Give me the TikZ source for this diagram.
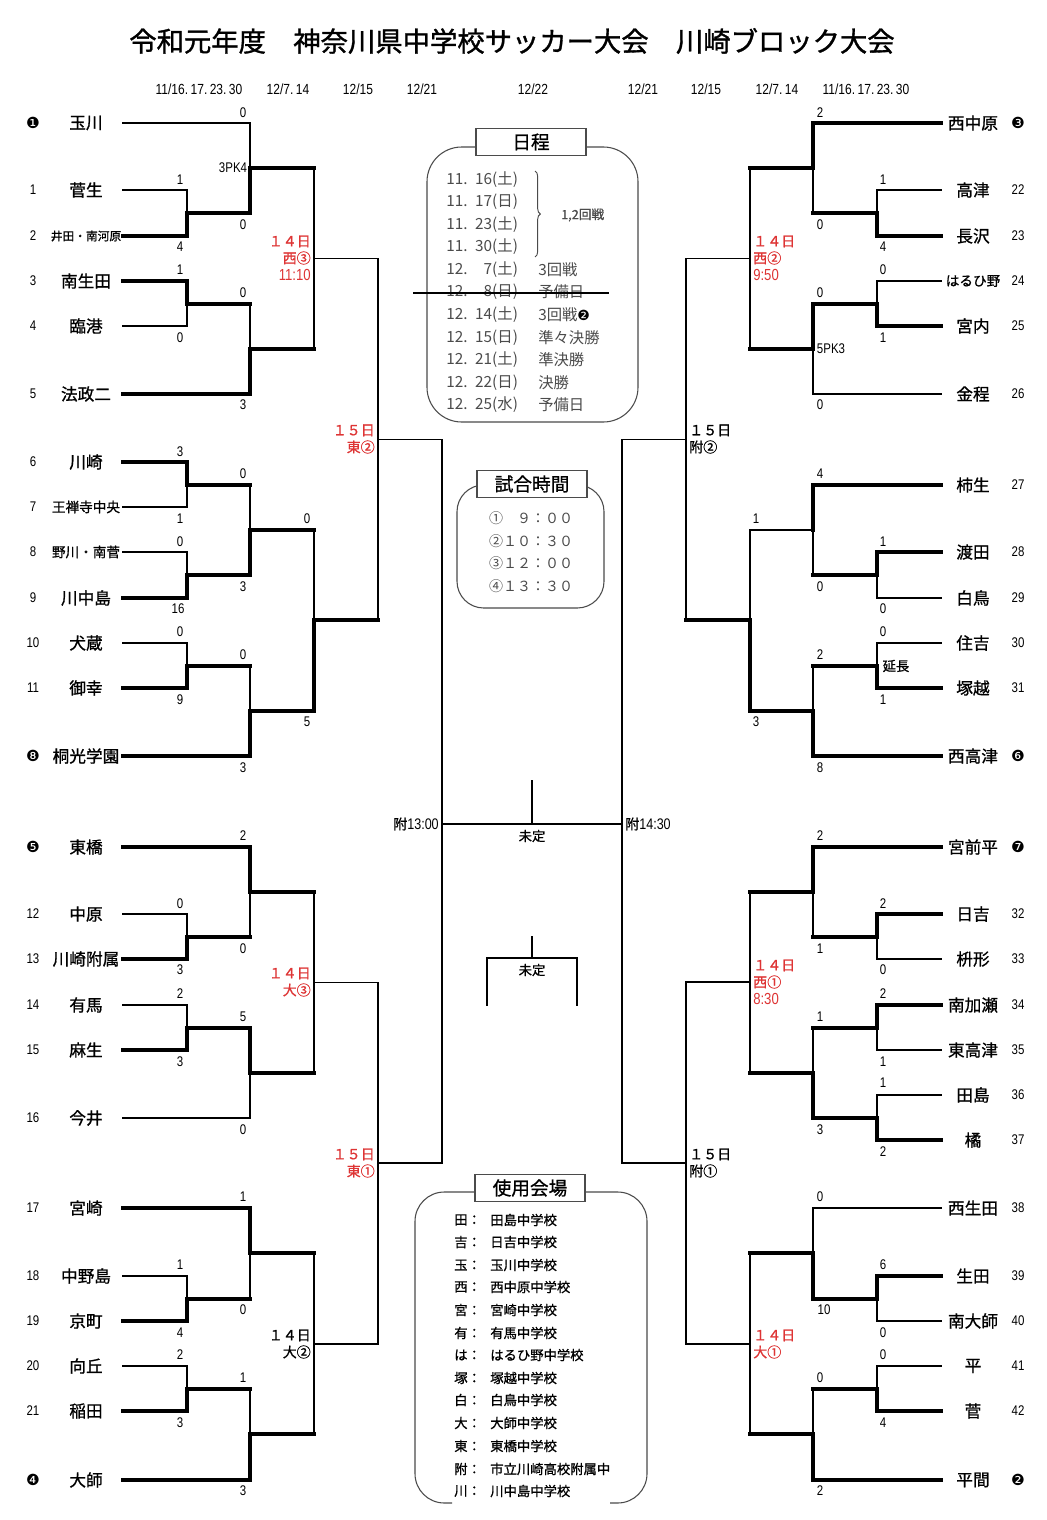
\documentclass[tikz,border=0pt]{standalone}
\usepackage{fontspec}
\setmainfont{Noto Sans CJK JP}
\newfontfamily\jp{Noto Sans CJK JP}
\newfontfamily\jpm[FakeBold=0.9]{Noto Sans CJK JP}
\newfontfamily\jpt[FakeBold=1.2]{Noto Sans CJK JP}
\newfontfamily\nr[FakeStretch=0.82]{Liberation Sans}
\newfontfamily\dv{DejaVu Sans}
\usetikzlibrary{calc,decorations.pathreplacing}
\definecolor{rd}{RGB}{222,52,52}
\definecolor{gy}{RGB}{75,75,75}
\newcommand\fs[1]{\fontsize{#1}{#1}\selectfont}
% one match of the bracket: top entrant, bottom entrant, x of vertical, result name, 4 styles
\newcommand\bm[8]{%
  \coordinate (#4) at ($(#1 -| #3)!0.5!(#2 -| #3)$);
  \draw[#5] (#1) -- (#1 -| #3);
  \draw[#6] (#2) -- (#2 -| #3);
  \draw[#7] (#1 -| #3) -- (#4);
  \draw[#8] (#2 -| #3) -- (#4);
}
\begin{document}
\begin{tikzpicture}[x=0.75pt,y=-0.75pt,
  tn/.style={line width=1.1pt,line cap=rect},
  tk/.style={line width=3pt,line cap=rect},
  sc/.style={inner sep=0pt,font=\nr\fs{10.5pt}},
  tm/.style={inner sep=0pt,font=\jpm\fs{12.5pt}},
  nb/.style={inner sep=0pt,font=\nr\fs{10.5pt}},
  sd/.style={inner sep=0pt,font=\dv\fs{11.5pt}},
  dt/.style={inner sep=0pt,font=\nr\fs{11pt}},
  lbr/.style={inner sep=0pt,align=right,anchor=east,font=\jpm\fontsize{10.5pt}{12.75pt}\selectfont},
  lbl/.style={inner sep=0pt,align=left,anchor=west,font=\jpm\fontsize{10.5pt}{12.75pt}\selectfont},
  frame/.style={draw=gy,line width=0.8pt},
  ttl/.style={draw=gy,line width=0.8pt,fill=white,minimum width=82.5pt,minimum height=20.5pt,inner sep=0pt,font=\jpm\fs{14pt}},
  sch/.style={inner sep=0pt,anchor=west,text=gy,font=\jp\fs{11.5pt}},
  ven/.style={inner sep=0pt,anchor=west,font=\jpm\fs{10pt}}]
\useasboundingbox (0,0) rectangle (1046,1520);
\fill[white] (0,0) rectangle (1046,1520);

% title and dates
\node[inner sep=0pt,font=\jpt\fs{20.5pt}] (title) at (512,41) {令和元年度　神奈川県中学校サッカー大会　川崎ブロック大会};
\node[dt] (d1) at (199,89) {11/16.\,17.\,23.\,30};
\node[dt] (d2) at (288,89) {12/7.\,14};
\node[dt] (d3) at (358,89) {12/15};
\node[dt] (d4) at (422,89) {12/21};
\node[dt] (d5) at (533,89) {12/22};
\node[dt] (d6) at (643,89) {12/21};
\node[dt] (d7) at (706,89) {12/15};
\node[dt] (d8) at (777,89) {12/7.\,14};
\node[dt] (d9) at (866,89) {11/16.\,17.\,23.\,30};

% vertical positions
\coordinate (xa) at (187,0); \coordinate (xb) at (250,0);
\coordinate (xc) at (314,0); \coordinate (xd) at (378,0); \coordinate (xe) at (442,0);
\coordinate (ya) at (877,0); \coordinate (yb) at (813,0);
\coordinate (yc) at (750,0); \coordinate (yd) at (686,0); \coordinate (ye) at (622,0);

% left teams
\foreach \n/\y/\t in {0/123/玉川,1/190/菅生,2/236/{\fs{8.8pt}井田・南河原},3/281/南生田,4/326/臨港,5/394/法政二,
  6/462/川崎,7/507/{\fs{10.2pt}王禅寺中央},8/552/{\fs{10.2pt}野川・南菅},9/598/川中島,10/643/犬蔵,11/688/御幸,12/756/桐光学園,
  13/847/東橋,14/914/中原,15/959/川崎附属,16/1005/有馬,17/1050/麻生,18/1118/今井,
  19/1208/宮崎,20/1276/中野島,21/1321/京町,22/1366/向丘,23/1411/稲田,24/1480/大師}
  {\node[tm] (nL\n) at (86,\y) {\t}; \coordinate (L\n) at (123,\y);}
% right teams
\foreach \n/\y/\t in {0/123/西中原,1/190/高津,2/236/長沢,3/281/{\fs{10.2pt}はるひ野},4/326/宮内,5/394/金程,
  6/485/柿生,7/552/渡田,8/598/白鳥,9/643/住吉,10/688/塚越,11/756/西高津,
  12/847/宮前平,13/914/日吉,14/959/枡形,15/1005/南加瀬,16/1050/東高津,17/1095/田島,18/1140/橘,
  19/1208/西生田,20/1276/生田,21/1321/南大師,22/1366/平,23/1411/菅,24/1480/平間}
  {\node[tm] (nR\n) at (973,\y) {\t}; \coordinate (R\n) at (941,\y);}
% draw numbers
\foreach \n/\y in {1/190,2/236,3/281,4/326,5/394,6/462,7/507,8/552,9/598,10/643,11/688,
  12/914,13/959,14/1005,15/1050,16/1118,17/1208,18/1276,19/1321,20/1366,21/1411}
  {\node[nb] (kL\n) at (33,\y) {\n};}
\foreach \n/\y in {22/190,23/236,24/281,25/326,26/394,27/485,28/552,29/598,30/643,31/688,
  32/914,33/959,34/1005,35/1050,36/1095,37/1140,38/1208,39/1276,40/1321,41/1366,42/1411}
  {\node[nb] (kR\n) at (1018,\y) {\n};}
\node[sd] (sd1) at (33,123) {❶};
\node[sd] (sd8) at (33,756) {❽};
\node[sd] (sd5) at (33,847) {❺};
\node[sd] (sd4) at (33,1480) {❹};
\node[sd] (sd3) at (1018,123) {❸};
\node[sd] (sd6) at (1018,756) {❻};
\node[sd] (sd7) at (1018,847) {❼};
\node[sd] (sd2) at (1018,1480) {❷};

% ---------- left bracket ----------
\bm{L1}{L2}{xa}{m12}{tn}{tk}{tn}{tk}
\bm{L3}{L4}{xa}{m34}{tk}{tn}{tk}{tn}
\bm{L0}{m12}{xb}{r1a}{tn}{tk}{tn}{tk}
\bm{m34}{L5}{xb}{r1b}{tk}{tk}{tn}{tk}
\bm{r1a}{r1b}{xc}{q1}{tk}{tk}{tn}{tn}

\bm{L6}{L7}{xa}{m67}{tk}{tn}{tk}{tn}
\bm{L8}{L9}{xa}{m89}{tn}{tk}{tn}{tk}
\bm{m67}{m89}{xb}{r2a}{tk}{tk}{tn}{tk}
\bm{L10}{L11}{xa}{m1011}{tn}{tk}{tn}{tk}
\bm{m1011}{L12}{xb}{r2b}{tk}{tk}{tn}{tk}
\bm{r2a}{r2b}{xc}{q2}{tk}{tk}{tn}{tk}
\bm{q1}{q2}{xd}{s1}{tn}{tk}{tn}{tn}

\bm{L14}{L15}{xa}{m1415}{tn}{tk}{tn}{tk}
\bm{L13}{m1415}{xb}{r3a}{tk}{tk}{tk}{tn}
\bm{L16}{L17}{xa}{m1617}{tn}{tk}{tn}{tk}
\bm{m1617}{L18}{xb}{r3b}{tk}{tn}{tk}{tn}
\bm{r3a}{r3b}{xc}{q3}{tk}{tk}{tn}{tn}

\bm{L20}{L21}{xa}{m2021}{tn}{tk}{tn}{tk}
\bm{L19}{m2021}{xb}{r4a}{tk}{tk}{tk}{tn}
\bm{L22}{L23}{xa}{m2223}{tn}{tk}{tn}{tk}
\bm{m2223}{L24}{xb}{r4b}{tk}{tk}{tn}{tk}
\bm{r4a}{r4b}{xc}{q4}{tk}{tk}{tn}{tn}
\bm{q3}{q4}{xd}{s2}{tn}{tn}{tn}{tn}

% ---------- right bracket ----------
\bm{R1}{R2}{ya}{n12}{tn}{tk}{tn}{tk}
\bm{R0}{n12}{yb}{p1a}{tk}{tk}{tk}{tn}
\bm{R3}{R4}{ya}{n34}{tn}{tk}{tn}{tk}
\bm{n34}{R5}{yb}{p1b}{tk}{tn}{tk}{tn}
\bm{p1a}{p1b}{yc}{w1}{tk}{tk}{tn}{tn}

\bm{R7}{R8}{ya}{n78}{tk}{tn}{tk}{tn}
\bm{R6}{n78}{yb}{p2a}{tk}{tk}{tk}{tn}
\bm{R9}{R10}{ya}{n910}{tn}{tk}{tn}{tk}
\bm{n910}{R11}{yb}{p2b}{tk}{tk}{tn}{tk}
\bm{p2a}{p2b}{yc}{w2}{tn}{tk}{tn}{tk}
\bm{w1}{w2}{yd}{s3}{tn}{tk}{tn}{tn}

\bm{R13}{R14}{ya}{n1314}{tk}{tn}{tk}{tn}
\bm{R12}{n1314}{yb}{p3a}{tk}{tk}{tk}{tn}
\bm{R15}{R16}{ya}{n1516}{tk}{tn}{tk}{tn}
\bm{R17}{R18}{ya}{n1718}{tn}{tk}{tn}{tk}
\bm{n1516}{n1718}{yb}{p3b}{tk}{tk}{tn}{tk}
\bm{p3a}{p3b}{yc}{w3}{tk}{tk}{tn}{tn}

\bm{R20}{R21}{ya}{n2021}{tk}{tn}{tk}{tn}
\bm{R19}{n2021}{yb}{p4a}{tn}{tk}{tn}{tk}
\bm{R22}{R23}{ya}{n2223}{tn}{tk}{tn}{tk}
\bm{n2223}{R24}{yb}{p4b}{tk}{tk}{tn}{tk}
\bm{p4a}{p4b}{yc}{w4}{tk}{tk}{tn}{tn}
\bm{w3}{w4}{yd}{s4}{tn}{tn}{tn}{tn}

% semis and final
\draw[tn] (s1) -- (s1 -| xe) -- (s2 -| xe);
\draw[tn] (s2) -- (s2 -| xe);
\draw[tn] (s3) -- (s3 -| ye) -- (s4 -| ye);
\draw[tn] (s4) -- (s4 -| ye);
\coordinate (fin) at (532,824);
\coordinate (finT) at (532,781);
\draw[tn] (fin -| xe) -- (fin -| ye);
\draw[tn] (finT) -- (fin);
\node[inner sep=0pt,font=\jpm\fs{10pt}] (mt1) at (532,836) {未定};
\node[inner sep=0pt,anchor=east,font=\jpm\fs{10.5pt}] (t1300) at (439,824) {附{\nr\fs{11.5pt}13:00}};
\node[inner sep=0pt,anchor=west,font=\jpm\fs{10.5pt}] (t1430) at (625,824) {附{\nr\fs{11.5pt}14:30}};
% third place
\coordinate (tp) at (532,958);
\coordinate (tpT) at (532,937);
\coordinate (tpL) at (487,1005);
\coordinate (tpR) at (577,1005);
\draw[tn] (tpT) -- (tp);
\draw[tn] (tpL) -- (tpL |- tp) -- (tpR |- tp) -- (tpR);
\node[inner sep=0pt,font=\jpm\fs{10pt}] (mt2) at (532,970) {未定};

% scores
\foreach \x/\y/\s in {180/180/1,180/247/4,180/270/1,180/338/0,180/452/3,180/519/1,180/542/0,178/609/16,180/632/0,180/700/9,
  180/904/0,180/970/3,180/994/2,180/1062/3,180/1265/1,180/1333/4,180/1355/2,180/1423/3,
  243/113/0,243/225/0,243/293/0,243/405/3,243/474/0,243/587/3,243/655/0,243/768/3,243/836/2,243/949/0,
  243/1017/5,243/1130/0,243/1197/1,243/1310/0,243/1378/1,243/1491/3,307/519/0,307/722/5,
  883/180/1,883/247/4,883/270/0,883/338/1,883/542/1,883/609/0,883/632/0,883/700/1,883/904/2,883/970/0,
  883/994/2,883/1062/1,883/1083/1,883/1152/2,883/1265/6,883/1333/0,883/1355/0,883/1423/4,
  820/113/2,820/225/0,820/293/0,820/405/0,820/474/4,820/587/0,820/655/2,820/768/8,820/836/2,820/949/1,
  820/1017/1,820/1130/3,820/1197/0,824/1310/10,820/1378/0,820/1491/2,756/519/1,756/722/3}
  {\node[sc] (s\x-\y) at (\x,\y) {\s};}
\node[sc] (pk1) at (233,168) {3PK4};
\node[sc] (pk2) at (831,349) {5PK3};
\node[inner sep=0pt,font=\jpm\fs{10pt}] (ench) at (896,666) {延長};

% round labels
\node[lbr,text=rd] (la1) at (311,258) {１４日\\西③\\{\nr\fs{12pt}11:10}};
\node[lbr,text=rd] (la2) at (375,439) {１５日\\東②};
\node[lbr,text=rd] (la3) at (311,982) {１４日\\大③};
\node[lbr,text=rd] (la4) at (375,1163) {１５日\\東①};
\node[lbr] (la5) at (311,1344) {１４日\\大②};
\node[lbl,text=rd] (ra1) at (753,258) {１４日\\西②\\{\nr\fs{12pt}9:50}};
\node[lbl] (ra2) at (689,439) {１５日\\附②};
\node[lbl,text=rd] (ra3) at (753,982) {１４日\\西①\\{\nr\fs{12pt}8:30}};
\node[lbl] (ra4) at (689,1163) {１５日\\附①};
\node[lbl,text=rd] (ra5) at (753,1344) {１４日\\大①};

% schedule box
\draw[frame,rounded corners=26pt] (427,147) rectangle (638,422);
\node[ttl] (nittei) at (531,142) {日程};
\node[sch] (e1) at (446,180) {11.\enspace16(土)};
\node[sch] (e2) at (446,202) {11.\enspace17(日)};
\node[sch] (e3) at (446,225) {11.\enspace23(土)};
\node[sch] (e4) at (446,247) {11.\enspace30(土)};
\node[sch] (e5) at (446,270) {12.\enspace\hphantom{1}7(土)};
\node[sch] (e6) at (446,292) {12.\enspace\hphantom{1}8(日)};
\node[sch] (e7) at (446,315) {12.\enspace14(土)};
\node[sch] (e8) at (446,338) {12.\enspace15(日)};
\node[sch] (e9) at (446,360) {12.\enspace21(土)};
\node[sch] (e10) at (446,383) {12.\enspace22(日)};
\node[sch] (e11) at (446,405) {12.\enspace25(水)};
\node[sch] (f5) at (538,270) {3回戦};
\node[sch] (f6) at (538,292) {予備日};
\node[sch] (f7) at (538,315) {3回戦{\dv\fs{10.5pt}\color{black}❷}};
\node[sch] (f8) at (538,338) {準々決勝};
\node[sch] (f9) at (538,360) {準決勝};
\node[sch] (f10) at (538,383) {決勝};
\node[sch] (f11) at (538,405) {予備日};
\coordinate (brT) at (535,171);
\coordinate (brB) at (535,257);
\draw[gy,line width=0.7pt,decorate,decoration={brace,amplitude=4pt}] (brT) -- (brB);
\node[inner sep=0pt,anchor=west,text=gy,font=\jpm\fs{9.5pt}] (r12) at (561,215) {1,2回戦};
\coordinate (stA) at (413,293);
\coordinate (stB) at (609,293);
\draw[line width=0.8pt] (stA) -- (stB);

% match time box
\draw[frame,rounded corners=20pt] (457,485) rectangle (604,608);
\node[ttl] (jikan) at (532,484) {試合時間};
\foreach \y/\t in {518/{①　９：００},541/{②１０：３０},563/{③１２：００},586/{④１３：３０}}
  {\node[inner sep=0pt,text=gy,font=\jp\fs{10.5pt}] (tt\y) at (531,\y) {\t};}

% venue box
\draw[frame,rounded corners=22pt] (452,1503) -- (415,1503) -- (415,1192) -- (647,1192) -- (647,1503) -- (610,1503);
\node[ttl] (kaijo) at (530,1188) {使用会場};
\foreach \y/\k/\v in {1220/田/田島中学校,1242/吉/日吉中学校,1265/玉/玉川中学校,1287/西/西中原中学校,
  1310/宮/宮崎中学校,1333/有/有馬中学校,1355/は/はるひ野中学校,1378/塚/塚越中学校,1400/白/白鳥中学校,
  1423/大/大師中学校,1446/東/東橋中学校,1469/附/市立川崎高校附属中,1491/川/川中島中学校}
  {\node[ven] (vk\y) at (454,\y) {\k：}; \node[ven] (vv\y) at (490,\y) {\v};}
\end{tikzpicture}
\end{document}
